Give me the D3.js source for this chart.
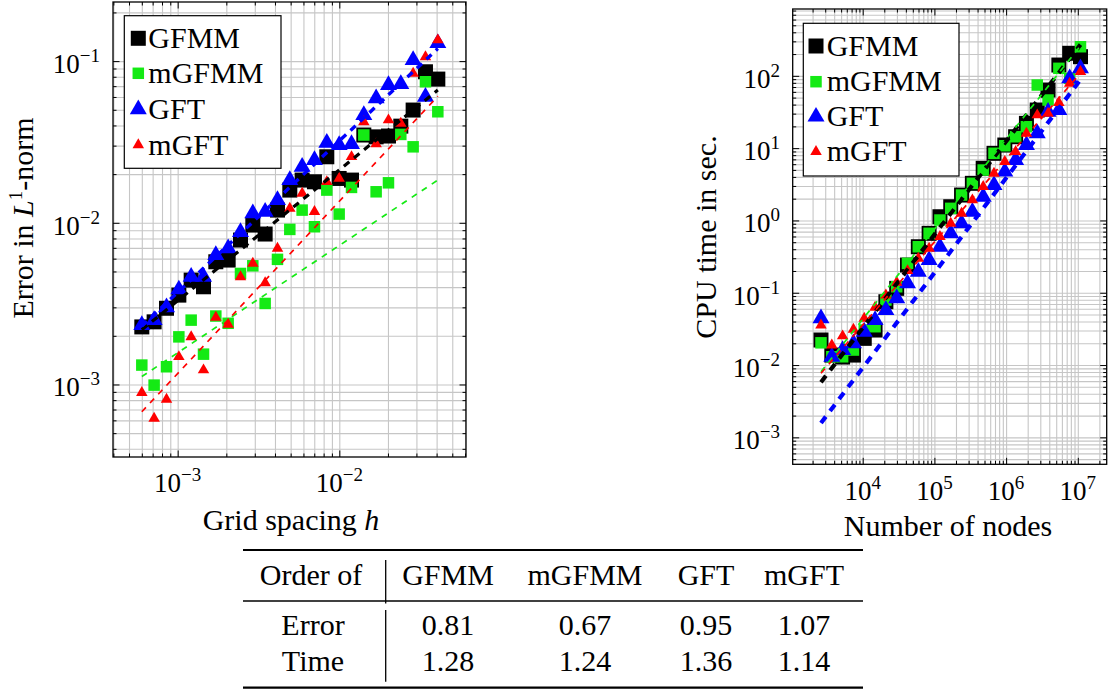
<!DOCTYPE html>
<html>
<head>
<meta charset="utf-8">
<style>
  body { margin: 0; background: #fff; }
  svg text { font-family: "Liberation Serif", "DejaVu Serif", serif; fill: #000; }
</style>
</head>
<body>
<svg id="chart" width="1110" height="691"></svg>
<script src="https://d3js.org/d3.v7.min.js"></script>
<script>
// ---- left panel: error vs grid spacing ----
const hValues = [6.00e-4, 7.15e-4, 8.53e-4, 1.017e-3, 1.212e-3, 1.445e-3, 1.722e-3, 2.053e-3, 2.447e-3, 2.917e-3,
  3.477e-3, 4.145e-3, 4.941e-3, 5.89e-3, 7.02e-3, 8.37e-3, 9.98e-3, 1.190e-2, 1.418e-2, 1.690e-2,
  2.015e-2, 2.402e-2, 2.863e-2, 3.413e-2, 4.07e-2]
const errGFMM = [2.27e-3, 2.44e-3, 2.96e-3, 3.57e-3, 4.42e-3, 4.02e-3, 5.74e-3, 5.88e-3, 7.82e-3, 9.68e-3,
  8.52e-3, 1.198e-2, 1.593e-2, 1.837e-2, 1.793e-2, 2.56e-2, 1.88e-2, 1.837e-2, 3.49e-2, 3.40e-2,
  3.44e-2, 3.96e-2, 4.98e-2, 8.59e-2, 7.74e-2]
const errMGFMM = [1.318e-3, 9.91e-4, 1.287e-3, 1.97e-3, 2.50e-3, 1.54e-3, 2.65e-3, 2.39e-3, 4.86e-3, 5.42e-3,
  3.17e-3, 5.94e-3, 9.10e-3, 1.198e-2, 9.45e-3, 1.593e-2, 1.132e-2, 1.655e-2, 3.49e-2, 1.555e-2,
  1.767e-2, 3.52e-2, 2.95e-2, 7.45e-2, 4.86e-2]
const errGFT = [2.33e-3, 2.50e-3, 3.00e-3, 3.87e-3, 4.63e-3, 4.63e-3, 6.31e-3, 6.94e-3, 8.76e-3, 1.143e-2,
  1.17e-2, 1.382e-2, 1.837e-2, 2.22e-2, 2.44e-2, 3.12e-2, 3.02e-2, 3.07e-2, 4.63e-2, 5.88e-2,
  7.11e-2, 7.21e-2, 1.015e-1, 6.02e-2, 1.29e-1]
const errMGFT = [8.89e-4, 6.17e-4, 8.09e-4, 1.483e-3, 1.97e-3, 1.228e-3, 2.60e-3, 2.35e-3, 4.63e-3, 5.61e-3,
  4.25e-3, 6.94e-3, 1.228e-2, 1.52e-2, 1.17e-2, 1.793e-2, 1.88e-2, 2.56e-2, 4.21e-2, 3.07e-2,
  4.32e-2, 4.12e-2, 8.39e-2, 1.063e-1, 1.35e-1]
// fitted lines [h, error] at both ends
const fitErrGFMM = [[6.0e-4, 2.18e-3], [4.07e-2, 6.62e-2]]
const fitErrMGFMM = [[6.0e-4, 1.119e-3], [4.07e-2, 1.837e-2]]
const fitErrGFT = [[6.0e-4, 2.30e-3], [4.07e-2, 1.195e-1]]
const fitErrMGFT = [[6.0e-4, 6.78e-4], [4.07e-2, 6.06e-2]]

// ---- right panel: cpu time vs number of nodes ----
const nodes = [2620, 3709, 5248, 7428, 10510, 14870, 21050, 29790, 42150, 59650,
  84410, 119500, 169000, 239200, 338500, 479000, 678000, 959400, 1358000, 1921000,
  2719000, 3847000, 5445000, 7705000, 10900000]
const timeGFMM = [2.22e-2, 1.374e-2, 1.29e-2, 1.374e-2, 2.34e-2, 3.05e-2, 7.51e-2, 0.115, 0.2416, 0.4328,
  0.663, 1.125, 1.547, 2.245, 3.26, 5.26, 8.48, 11.04, 14.38, 22.0,
  33.65, 63.6, 141, 205, 184]
const timeMGFMM = [2.03e-2, 1.302e-2, 1.302e-2, 1.612e-2, 3.05e-2, 3.39e-2, 7.93e-2, 0.121, 0.255, 0.4328,
  0.663, 1.013, 1.47, 2.245, 3.26, 4.98, 8.48, 10.8, 14.38, 19.77,
  74.6, 46.3, 127, 92.3, 252.6]
const timeGFT = [4.42e-2, 1.302e-2, 1.612e-2, 1.995e-2, 2.89e-2, 4.19e-2, 5.76e-2, 8.37e-2, 0.1349, 0.1952,
  0.2834, 0.4328, 0.663, 0.912, 1.319, 2.128, 3.088, 4.72, 6.84, 11.04,
  16.02, 31.87, 33.65, 92.3, 127]
const timeMGFT = [3.57e-2, 1.89e-2, 2.52e-2, 3.12e-2, 4.42e-2, 6.28e-2, 9.29e-2, 0.1393, 0.2015, 0.299,
  0.4112, 0.595, 0.912, 1.254, 1.915, 2.925, 4.48, 6.48, 8.92, 16.02,
  28.7, 30.3, 42.5, 78.7, 114]
const fitTimeGFMM = [[2620, 5.8e-3], [1.09e7, 270]]
const fitTimeMGFMM = [[2620, 8.1e-3], [1.09e7, 260]]
const fitTimeGFT = [[2620, 1.58e-3], [1.09e7, 88.6]]
const fitTimeMGFT = [[2620, 7.7e-3], [1.09e7, 109]]

// ---- table ----
const methods = ['GFMM', 'mGFMM', 'GFT', 'mGFT']
const orderError = ['0.81', '0.67', '0.95', '1.07']
const orderTime = ['1.28', '1.24', '1.36', '1.14']

// styles
const marks = {
  GFMM:  { type: d3.symbolSquare,   side: 15, color: '#000000' },
  mGFMM: { type: d3.symbolSquare,   side: 11.5, color: '#14ea14' },
  GFT:   { type: d3.symbolTriangle, side: 17, color: '#0000ff' },
  mGFT:  { type: d3.symbolTriangle, side: 11.5, color: '#ff0000' }
}
const symArea = m => m.type === d3.symbolSquare ? m.side * m.side : Math.sqrt(3) / 4 * m.side * m.side

const svg = d3.select('#chart')

const isMajor = v => Math.abs(Math.log10(v) - Math.round(Math.log10(v))) < 1e-6

function powLabel(text, v) {
  const e = Math.round(Math.log10(v))
  text.append('tspan').text('10')
  text.append('tspan').attr('dy', -11).attr('font-size', 19).text(e < 0 ? '\u2212' + (-e) : e)
}

function panel(x, y) {
  const [x0, x1] = x.range()
  const [yb, yt] = y.range()
  const w = x1 - x0, h = yb - yt
  const g = svg.append('g')
  const xt = x.ticks(), yts = y.ticks()

  // grid
  g.append('g').attr('transform', `translate(0,${yb})`)
    .call(d3.axisBottom(x).tickValues(xt).tickSize(-h).tickFormat(''))
  g.append('g').attr('transform', `translate(${x0},0)`)
    .call(d3.axisLeft(y).tickValues(yts).tickSize(-w).tickFormat(''))
  g.selectAll('.domain').remove()
  g.selectAll('line').attr('stroke', '#c6c6c6').attr('stroke-width', 1.1)

  // ticks on four sides, inward
  const tk = svg.append('g')
  const sides = [
    [d3.axisBottom(x), xt, `translate(0,${yb})`],
    [d3.axisTop(x), xt, `translate(0,${yt})`],
    [d3.axisLeft(y), yts, `translate(${x0},0)`],
    [d3.axisRight(y), yts, `translate(${x1},0)`]
  ]
  sides.forEach(([ax, vals, tr]) => {
    tk.append('g').attr('transform', tr).call(ax.tickValues(vals.filter(v => !isMajor(v))).tickSize(-3.5).tickFormat(''))
    tk.append('g').attr('transform', tr).call(ax.tickValues(vals.filter(isMajor)).tickSize(-6.5).tickFormat(''))
  })
  tk.selectAll('.domain').remove()
  tk.selectAll('line').attr('stroke', '#000').attr('stroke-width', 1)
  svg.append('rect').attr('x', x0).attr('y', yt).attr('width', w).attr('height', h)
    .attr('fill', 'none').attr('stroke', '#000').attr('stroke-width', 1.3)
  return { xt, yts }
}

function drawSeries(x, y, xs, ysets, fits) {
  const g = svg.append('g')
  methods.forEach((m, i) => {
    const pts = xs.map((v, j) => [v, ysets[i][j]]).filter(d => d[1] != null)
    g.append('g').selectAll('path').data(pts).join('path')
      .attr('transform', d => `translate(${x(d[0])},${y(d[1])})`)
      .attr('d', d3.symbol().type(marks[m].type).size(symArea(marks[m])))
      .attr('fill', marks[m].color)
  })
  const line = d3.line().x(d => x(d[0])).y(d => y(d[1]))
  fits.forEach(f => {
    g.append('path').attr('d', line(f.data)).attr('fill', 'none')
      .attr('stroke', f.color).attr('stroke-width', f.width).attr('stroke-dasharray', f.dash)
  })
}

function legend(bx, by, bw, bh, mx, tx, rows) {
  const g = svg.append('g')
  g.append('rect').attr('x', bx).attr('y', by).attr('width', bw).attr('height', bh)
    .attr('fill', '#fff').attr('stroke', '#000').attr('stroke-width', 1.2)
  methods.forEach((m, i) => {
    g.append('path').attr('transform', `translate(${mx},${rows[i]})`)
      .attr('d', d3.symbol().type(marks[m].type).size(symArea(marks[m])))
      .attr('fill', marks[m].color)
    g.append('text').attr('x', tx).attr('y', rows[i] + 9.5).attr('font-size', 30).text(m)
  })
}

// ---------- left panel ----------
const xL = d3.scaleLog().domain([3.98e-4, 0.0608]).range([113, 466])
const yL = d3.scaleLog().domain([3.56e-4, 0.232]).range([457, 2])
const pl = panel(xL, yL)
drawSeries(xL, yL, hValues, [errGFMM, errMGFMM, errGFT, errMGFT], [
  { data: fitErrGFMM, color: '#000', width: 3.2, dash: '7 6' },
  { data: fitErrMGFMM, color: '#14ea14', width: 1.7, dash: '6 6' },
  { data: fitErrGFT, color: '#0000ff', width: 3.4, dash: '7 6' },
  { data: fitErrMGFT, color: '#ff0000', width: 1.7, dash: '6 6' }
])
legend(124.3, 15.7, 156.7, 152.6, 138.3, 148.3, [38.3, 73.3, 109.3, 145])

pl.xt.filter(isMajor).forEach(v => {
  powLabel(svg.append('text').attr('x', xL(v)).attr('y', 492).attr('text-anchor', 'middle').attr('font-size', 27), v)
})
pl.yts.filter(isMajor).forEach(v => {
  powLabel(svg.append('text').attr('x', 100).attr('y', yL(v) + 12).attr('text-anchor', 'end').attr('font-size', 27), v)
})
const xlabL = svg.append('text').attr('x', 291).attr('y', 530).attr('text-anchor', 'middle').attr('font-size', 30)
xlabL.append('tspan').text('Grid spacing ')
xlabL.append('tspan').attr('font-style', 'italic').text('h')
const ylabL = svg.append('text').attr('transform', 'translate(33,218) rotate(-90)').attr('text-anchor', 'middle').attr('font-size', 30)
ylabL.append('tspan').text('Error in ')
ylabL.append('tspan').attr('font-style', 'italic').text('L')
ylabL.append('tspan').attr('dy', -11).attr('font-size', 19).text('1')
ylabL.append('tspan').attr('dy', 11).text('-norm')

// ---------- right panel ----------
const xR = d3.scaleLog().domain([1056, 2.53e7]).range([792.7, 1106.7])
const yR = d3.scaleLog().domain([4.24e-4, 840]).range([464.3, 9])
const pr = panel(xR, yR)
drawSeries(xR, yR, nodes, [timeGFMM, timeMGFMM, timeGFT, timeMGFT], [
  { data: fitTimeGFMM, color: '#000', width: 4.2, dash: '8 7' },
  { data: fitTimeMGFMM, color: '#14ea14', width: 1.7, dash: '6 6' },
  { data: fitTimeGFT, color: '#0000ff', width: 4.2, dash: '8 7' },
  { data: fitTimeMGFT, color: '#ff0000', width: 1.7, dash: '6 6' }
])
legend(803.3, 23.3, 155.7, 152.7, 816, 826.7, [46, 81.7, 116.7, 151.7])

pr.xt.filter(isMajor).forEach(v => {
  powLabel(svg.append('text').attr('x', xR(v)).attr('y', 500).attr('text-anchor', 'middle').attr('font-size', 27), v)
})
pr.yts.filter(isMajor).forEach(v => {
  powLabel(svg.append('text').attr('x', 780).attr('y', yR(v) + 12).attr('text-anchor', 'end').attr('font-size', 27), v)
})
svg.append('text').attr('x', 948).attr('y', 536).attr('text-anchor', 'middle').attr('font-size', 30).text('Number of nodes')
svg.append('text').attr('transform', 'translate(716,237) rotate(-90)').attr('text-anchor', 'middle')
  .attr('font-size', 30).text('CPU time in sec.')

// ---------- table ----------
const tb = svg.append('g').attr('font-size', 30)
const colX = [448, 585, 706, 804]
const rule = (yy, sw) => tb.append('line').attr('x1', 243).attr('x2', 863).attr('y1', yy).attr('y2', yy)
  .attr('stroke', '#000').attr('stroke-width', sw)
rule(550, 2.2); rule(601, 1.3); rule(687.7, 2.2)
tb.append('line').attr('x1', 385.7).attr('x2', 385.7).attr('y1', 560).attr('y2', 603.5).attr('stroke', '#000').attr('stroke-width', 1.3)
tb.append('line').attr('x1', 385.7).attr('x2', 385.7).attr('y1', 610).attr('y2', 681.7).attr('stroke', '#000').attr('stroke-width', 1.3)
tb.append('text').attr('x', 311).attr('y', 585).attr('text-anchor', 'middle').text('Order of')
tb.append('text').attr('x', 313).attr('y', 635).attr('text-anchor', 'middle').text('Error')
tb.append('text').attr('x', 313).attr('y', 671).attr('text-anchor', 'middle').text('Time')
tb.selectAll('.hd').data(methods).join('text').attr('x', (d, i) => colX[i]).attr('y', 585).attr('text-anchor', 'middle').text(d => d)
tb.selectAll('.er').data(orderError).join('text').attr('x', (d, i) => colX[i]).attr('y', 635).attr('text-anchor', 'middle').text(d => d)
tb.selectAll('.tm').data(orderTime).join('text').attr('x', (d, i) => colX[i]).attr('y', 671).attr('text-anchor', 'middle').text(d => d)
</script>
</body>
</html>
